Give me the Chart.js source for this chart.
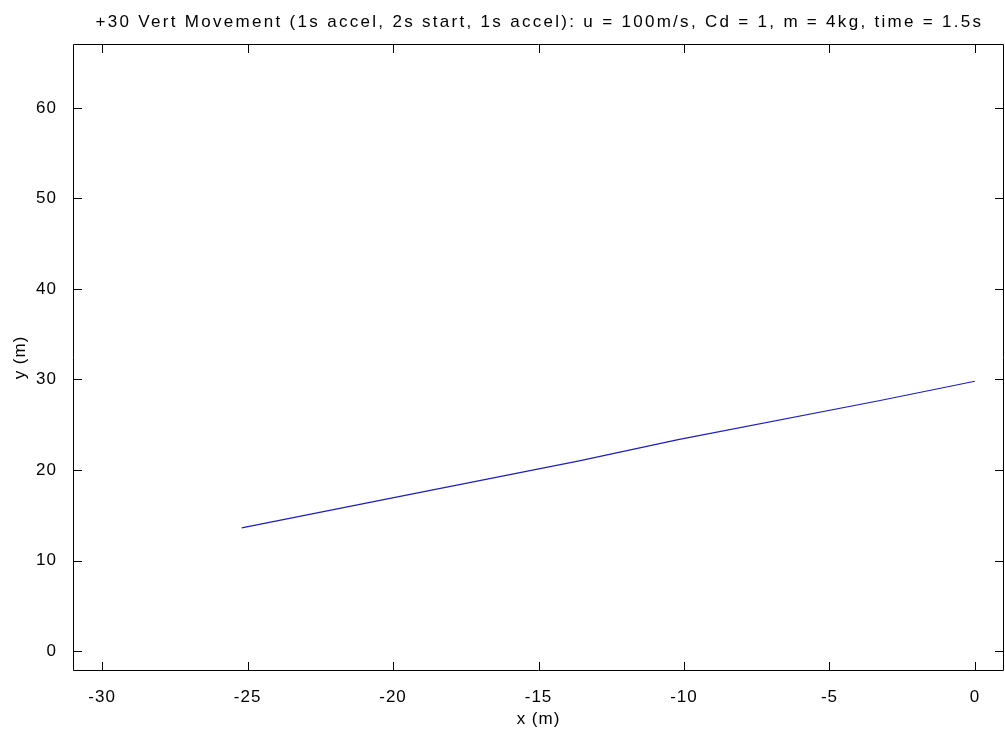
<!DOCTYPE html>
<html>
<head>
<meta charset="utf-8">
<script src="https://cdn.jsdelivr.net/npm/chart.js@4"></script>
<style>
  html, body { margin: 0; padding: 0; background: #fff; }
  #wrap { width: 1005px; height: 734px; }
</style>
</head>
<body>
<div id="wrap"><canvas id="trajChart" width="1005" height="734"></canvas></div>
<script>
// trajectory samples (x, y) in metres
const xPos = [-25.2, -20.45, -13.6, -10.2, -3.3, 0];
const yPos = [13.6, 16.65, 21.0, 23.35, 27.65, 29.8];

const xTicks = [-30, -25, -20, -15, -10, -5, 0];
const yTicks = [0, 10, 20, 30, 40, 50, 60];

const titleText = '+30 Vert Movement (1s accel, 2s start, 1s accel): u = 100m/s, Cd = 1, m = 4kg, time = 1.5s';
const FONT = '"Liberation Sans", Arial, sans-serif';

const ctx = document.getElementById('trajChart');

// wider letter spacing for all the axis text
const spacing = {
  id: 'spacing',
  beforeDraw: (chart) => { chart.ctx.letterSpacing = '1px'; }
};

// box round the plot + inward tick marks on all four sides, and the title
const boxTicks = {
  id: 'boxTicks',
  afterDraw: (chart) => {
    const { ctx, chartArea: a, scales: { x, y } } = chart;
    ctx.save();
    ctx.strokeStyle = '#000';
    ctx.lineWidth = 1;
    ctx.beginPath();
    ctx.rect(a.left + 0.5, a.top + 0.5, a.right - a.left - 1, a.bottom - a.top - 1);
    const len = 9;
    xTicks.forEach(v => {
      const px = Math.round(x.getPixelForValue(v)) + 0.5;
      ctx.moveTo(px, a.bottom); ctx.lineTo(px, a.bottom - len);
      ctx.moveTo(px, a.top); ctx.lineTo(px, a.top + len);
    });
    yTicks.forEach(v => {
      const py = Math.round(y.getPixelForValue(v)) + 0.5;
      ctx.moveTo(a.left, py); ctx.lineTo(a.left + len, py);
      ctx.moveTo(a.right, py); ctx.lineTo(a.right - len, py);
    });
    ctx.stroke();

    ctx.letterSpacing = '2.3px';
    ctx.fillStyle = '#000';
    ctx.font = '17px ' + FONT;
    ctx.textAlign = 'center';
    ctx.textBaseline = 'alphabetic';
    ctx.fillText(titleText, (a.left + a.right) / 2 + 1, 27);
    ctx.restore();
  }
};

const Traj = new Chart(ctx, {
  type: 'scatter',
  data: {
    datasets: [{
      label: 'trajectory',
      data: xPos.map((v, i) => ({ x: v, y: yPos[i] })),
      showLine: true,
      borderColor: '#1f1fb4',
      borderWidth: 1.2,
      pointRadius: 0,
      tension: 0
    }]
  },
  plugins: [spacing, boxTicks],
  options: {
    responsive: false,
    animation: false,
    layout: { padding: { top: 44, right: 1, left: 0, bottom: 0 } },
    plugins: {
      legend: { display: false },
      tooltip: { enabled: false },
      title: { display: false }
    },
    scales: {
      x: {
        type: 'linear',
        min: -31,
        max: 1,
        afterBuildTicks: (s) => { s.ticks = xTicks.map(v => ({ value: v })); },
        afterFit: (s) => { s.height = 63; },
        grid: { display: false },
        border: { display: false },
        ticks: {
          color: '#000',
          padding: 8,
          maxRotation: 0,
          font: { family: FONT, size: 17 }
        },
        title: {
          display: true,
          text: 'x (m)',
          color: '#000',
          font: { family: FONT, size: 17 },
          padding: { top: 0 }
        }
      },
      y: {
        type: 'linear',
        min: -2.2,
        max: 67.05,
        afterBuildTicks: (s) => { s.ticks = yTicks.map(v => ({ value: v })); },
        afterFit: (s) => { s.width = 73; },
        grid: { display: false },
        border: { display: false },
        ticks: {
          color: '#000',
          padding: 8,
          font: { family: FONT, size: 17 }
        },
        title: {
          display: true,
          text: 'y (m)',
          color: '#000',
          font: { family: FONT, size: 17 },
          padding: { top: 10, bottom: 0 }
        }
      }
    }
  }
});
</script>
</body>
</html>
